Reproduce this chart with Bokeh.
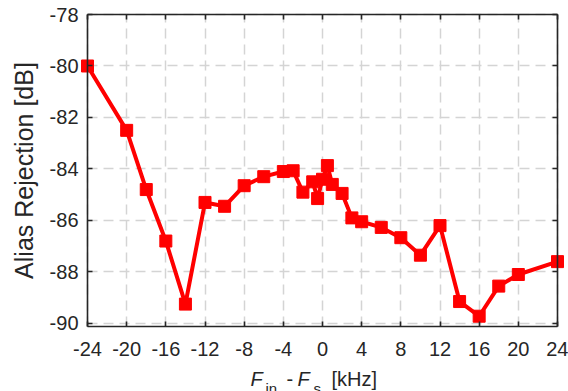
from bokeh.plotting import figure
from bokeh.models import LinearAxis, FixedTicker, Range1d, Label, Grid
from bokeh.embed import file_html
from bokeh.resources import INLINE

# Frequency offset F_in - F_s [kHz] and measured alias rejection [dB]
offset_khz = [-24, -20, -18, -16, -14, -12, -10, -8, -6, -4, -3, -2, -1, -0.5,
              0, 0.5, 1, 2, 3, 4, 6, 8, 10, 12, 14, 16, 18, 20, 24]
alias_rejection_db = [-80.0, -82.5, -84.8, -86.8, -89.25, -85.3, -85.45, -84.65,
                      -84.3, -84.1, -84.07, -84.9, -84.5, -85.15, -84.4, -83.87,
                      -84.6, -84.95, -85.9, -86.05, -86.27, -86.67, -87.35, -86.2,
                      -89.15, -89.72, -88.55, -88.1, -87.6]

x_ticks = [-24, -20, -16, -12, -8, -4, 0, 4, 8, 12, 16, 20, 24]
y_ticks = [-90, -88, -86, -84, -82, -80, -78]
x_limits = (-24, 24)
y_limits = (-90.1, -78)

FONT = "Liberation Sans"
AXIS_COLOR = "#262626"

# Canvas size and where the axes box sits on it (pixels)
W, H = 568, 391
BOX_L, BOX_R, BOX_T, BOX_B = 87, 557, 14, 325.5

# The frame fills the whole canvas so that every text can be placed freely;
# the ranges are widened so the axes box lands on the pixels above.
kx = (BOX_R - BOX_L) / (x_limits[1] - x_limits[0])
ky = (BOX_B - BOX_T) / (y_limits[1] - y_limits[0])
x_range = Range1d(x_limits[0] - BOX_L / kx, x_limits[1] + (W - BOX_R) / kx)
y_range = Range1d(y_limits[0] - (H - BOX_B) / ky, y_limits[1] + BOX_T / ky)

p = figure(width=W, height=H, output_backend="svg", toolbar_location=None,
           x_range=x_range, y_range=y_range,
           x_axis_type=None, y_axis_type=None,
           min_border=0, min_border_left=0, min_border_right=0,
           min_border_top=0, min_border_bottom=0,
           background_fill_color="white", border_fill_color="white")
p.outline_line_color = None


def make_axis(ticks, loc, bounds, show_labels):
    ax = LinearAxis(ticker=FixedTicker(ticks=ticks), fixed_location=loc,
                    bounds=bounds)
    ax.axis_line_color = AXIS_COLOR
    ax.axis_line_width = 1.6
    ax.major_tick_line_color = AXIS_COLOR
    ax.major_tick_line_width = 1.6
    ax.major_tick_in = 5
    ax.major_tick_out = 0
    ax.minor_tick_line_color = None
    ax.major_label_text_font = FONT
    ax.major_label_text_color = AXIS_COLOR
    ax.major_label_text_font_size = "20px"
    if show_labels:
        ax.major_label_overrides = {t: str(t) for t in ticks}
    else:
        ax.major_label_overrides = {t: "" for t in ticks}
    return ax


bottom_axis = make_axis(x_ticks, y_limits[0], x_limits, True)
bottom_axis.major_label_standoff = 16
left_axis = make_axis(y_ticks, x_limits[0], y_limits, True)
left_axis.major_label_standoff = 9
left_axis.axis_label = "Alias Rejection [dB]"
left_axis.axis_label_text_font = FONT
left_axis.axis_label_text_font_style = "normal"
left_axis.axis_label_text_font_size = "25px"
left_axis.axis_label_text_color = AXIS_COLOR
left_axis.axis_label_standoff = 9
top_axis = make_axis(x_ticks, y_limits[1], x_limits, False)
right_axis = make_axis(y_ticks, x_limits[1], y_limits, False)

p.add_layout(bottom_axis, "below")
p.add_layout(left_axis, "left")
p.add_layout(top_axis, "above")
p.add_layout(right_axis, "right")

for dim, ticks, bnds, cross in ((0, x_ticks, x_limits, y_limits),
                                (1, y_ticks, y_limits, x_limits)):
    p.add_layout(Grid(dimension=dim, ticker=FixedTicker(ticks=ticks),
                      bounds=bnds, cross_bounds=cross,
                      grid_line_color="#d4d4d4", grid_line_width=1.5,
                      grid_line_dash="10 6"))

p.line(offset_khz, alias_rejection_db, line_color="#ff0000", line_width=4)
p.scatter(offset_khz, alias_rejection_db, marker="square", size=12,
          fill_color="#ff0000", line_color="#ff0000")

# x-axis label: F_in - F_s [kHz], built from pieces with subscripts
pieces = [
    ("F", "italic", "20px", -72, 0),
    ("in", "normal", "15px", -57, -9),
    ("-", "normal", "20px", -36, 0),
    ("F", "italic", "20px", -25, 0),
    ("s", "normal", "15px", -9, -9),
    ("[kHz]", "normal", "20px", 9, 0),
]
for txt, style, size, dx, dy in pieces:
    p.add_layout(Label(x=0, y=y_limits[0], x_offset=dx, y_offset=-53 + dy,
                       text=txt, text_font=FONT, text_font_style=style,
                       text_font_size=size, text_color=AXIS_COLOR,
                       text_baseline="alphabetic", text_align="left"))

open("out.html", "w").write(file_html(p, INLINE))
